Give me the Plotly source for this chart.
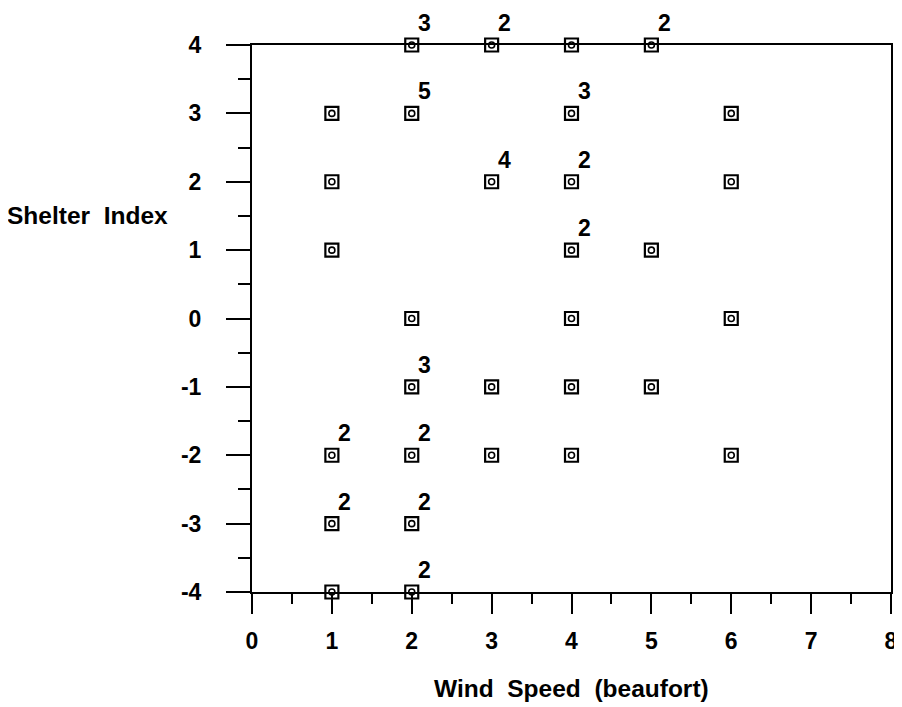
import plotly.graph_objects as go

# Data: wind speed (beaufort), shelter index, count label ("" = no label)
wind = [2, 3, 4, 5,
        1, 2, 4, 6,
        1, 3, 4, 6,
        1, 4, 5,
        2, 4, 6,
        2, 3, 4, 5,
        1, 2, 3, 4, 6,
        1, 2,
        1, 2]
shelter = [4, 4, 4, 4,
           3, 3, 3, 3,
           2, 2, 2, 2,
           1, 1, 1,
           0, 0, 0,
           -1, -1, -1, -1,
           -2, -2, -2, -2, -2,
           -3, -3,
           -4, -4]
counts = ["3", "2", "", "2",
          "", "5", "3", "",
          "", "4", "2", "",
          "", "2", "",
          "", "", "",
          "3", "", "", "",
          "2", "2", "", "", "",
          "2", "2",
          "", "2"]

x_ticks = [0, 1, 2, 3, 4, 5, 6, 7, 8]
y_ticks = [-4, -3, -2, -1, 0, 1, 2, 3, 4]

FONT = "Liberation Sans"

fig = go.Figure()
fig.add_trace(go.Scatter(
    x=wind, y=shelter, mode="markers", cliponaxis=False, showlegend=False,
    marker=dict(symbol="square-open", size=13, color="black",
                line=dict(width=2.2, color="black")),
))
fig.add_trace(go.Scatter(
    x=wind, y=shelter, mode="markers", cliponaxis=False, showlegend=False,
    marker=dict(symbol="circle-open", size=6, color="black",
                line=dict(width=1.6, color="black")),
))

for xv, yv, c in zip(wind, shelter, counts):
    if c:
        fig.add_annotation(x=xv, y=yv, text=c, showarrow=False,
                           xshift=13, yshift=22,
                           font=dict(family=FONT, size=23, color="black",
                                     weight="bold"))

fig.add_annotation(xref="x", yref="paper", x=4, y=0, yshift=-96,
                   text="Wind\u00a0 Speed\u00a0 (beaufort)", showarrow=False,
                   yanchor="middle",
                   font=dict(family=FONT, size=24.5, color="black", weight="bold"))
fig.add_annotation(xref="paper", yref="paper", x=0, y=0.689, xshift=-165,
                   text="Shelter\u00a0 Index", showarrow=False,
                   xanchor="center", yanchor="middle",
                   font=dict(family=FONT, size=24.5, color="black", weight="bold"))

axis_common = dict(
    showgrid=False, zeroline=False, showline=True, linecolor="black",
    linewidth=2, mirror=True, ticks="outside", tickcolor="black",
    tickwidth=2, ticklabeloverflow="allow",
    tickfont=dict(family=FONT, size=23, color="black", weight="bold"),
)

fig.update_xaxes(range=[0, 8], tickmode="array", tickvals=x_ticks,
                 ticktext=[str(v) for v in x_ticks], ticklen=20,
                 ticklabelstandoff=7,
                 minor=dict(dtick=0.5, ticklen=10, tickwidth=2,
                            tickcolor="black", ticks="outside"),
                 **axis_common)
fig.update_yaxes(range=[-4, 4], tickmode="array", tickvals=y_ticks,
                 ticktext=[str(v) for v in y_ticks], ticklen=24,
                 ticklabelstandoff=20,
                 minor=dict(dtick=0.5, ticklen=12, tickwidth=2,
                            tickcolor="black", ticks="outside"),
                 **axis_common)

fig.update_layout(
    width=902, height=707,
    margin=dict(l=244, r=14, t=37, b=123),
    paper_bgcolor="white", plot_bgcolor="white",
    font=dict(family=FONT, color="black"),
)

fig.write_html("out.html")
